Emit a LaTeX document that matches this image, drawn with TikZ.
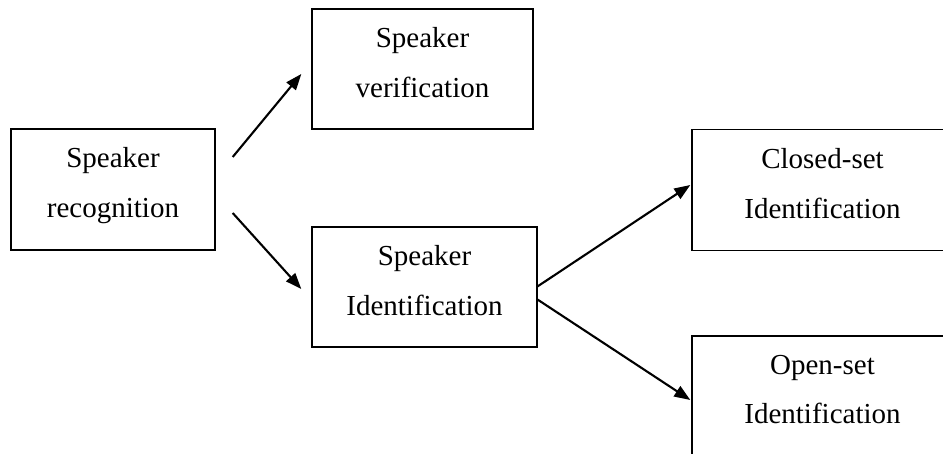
\documentclass[tikz,border=0pt]{standalone}
\usepackage{fontspec}
\setmainfont{Liberation Serif}
\usetikzlibrary{arrows.meta}
\newcommand{\topline}{\rule{0pt}{20pt}}
\newcommand{\botline}{\rule[-14pt]{0pt}{14pt}}
\tikzset{
  box/.style={draw, line width=1.4pt, inner sep=0pt, align=center,
    font=\fontsize{29}{50}\selectfont},
  arr/.style={line width=2.1pt, -{Triangle[length=16pt,width=12pt]}}
}
\begin{document}
\begin{tikzpicture}[x=1pt,y=-1pt]
\useasboundingbox (0,0) rectangle (943,454);
\clip (0,0) rectangle (943,454);
\node[box, minimum width=204pt, minimum height=121pt] (rec) at (113,189.5) {\topline Speaker\\recognition\botline};
\node[box, minimum width=221pt, minimum height=120pt] (ver) at (422.5,69) {\topline Speaker\\verification\botline};
\node[box, minimum width=225pt, minimum height=120pt] (ide) at (424.5,287) {\topline Speaker\\Identification\botline};
\node[box, minimum width=261pt, minimum height=121pt] (clo) at (822.5,190) {\topline Closed-set\\Identification\botline};
\node[box, minimum width=261pt, minimum height=120pt] (ope) at (822.5,396) {\topline Open-set\\Identification\botline};
\draw[arr] ([shift={(17,-32.5)}]rec.east) -- ([shift={(-10,5)}]ver.west);
\draw[arr] ([shift={(17,23.5)}]rec.east) -- ([shift={(-10,2)}]ide.west);
\draw[arr] ([shift={(-1,0)}]ide.east) -- ([shift={(-1,-5)}]clo.west);
\draw[arr] ([shift={(-1,12)}]ide.east) -- ([shift={(-1,4)}]ope.west);
\end{tikzpicture}
\end{document}
